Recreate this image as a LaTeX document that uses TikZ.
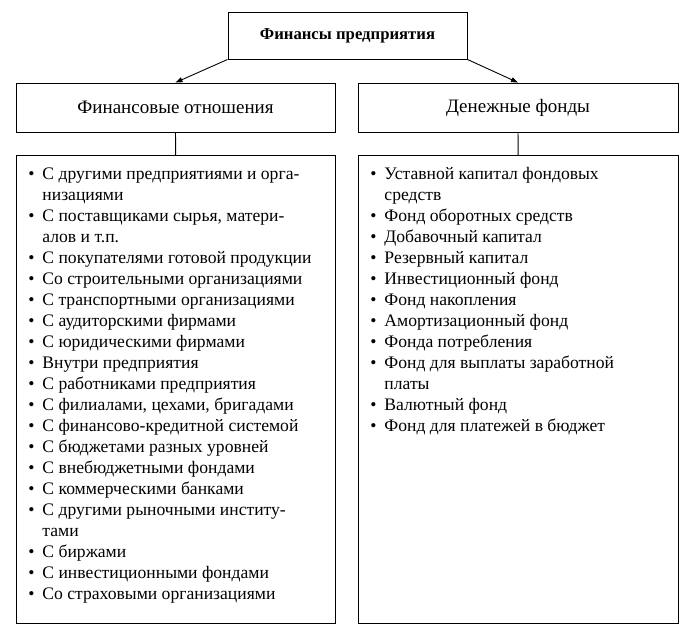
\documentclass[tikz,border=0pt]{standalone}
\usepackage{fontspec}
\setmainfont{Liberation Serif}
\usetikzlibrary{arrows.meta}

% one bullet point with hanging indent
\newcommand{\punkt}[1]{\par\hangindent=14pt\hangafter=1\noindent
  \makebox[14pt][l]{\textbullet}\strut#1\strut}

\begin{document}
\begin{tikzpicture}[x=1pt, y=-1pt,
    box/.style={draw, line width=0.9pt, inner sep=0pt, align=center},
    lst/.style={draw, line width=0.9pt, anchor=north west, inner xsep=12pt, inner ysep=0pt},
    arr/.style={line width=0.9pt, -{Triangle[length=7pt, width=5pt]}}]
  \useasboundingbox (0,0) rectangle (694,635);

  \node[box, minimum width=239pt, minimum height=47pt,
        font=\bfseries\fontsize{16.7}{19}\selectfont] (fin) at (347.5,35.5) {Финансы предприятия};

  \node[box, minimum width=319pt, minimum height=49pt,
        font=\fontsize{19}{22}\selectfont] (otn) at (175.5,107.5) {Финансовые отношения};
  \node[box, minimum width=320pt, minimum height=49pt,
        font=\fontsize{19}{22}\selectfont] (fond) at (518,107.5) {Денежные фонды};

  \node[lst] (otnlist) at (16,155) {\parbox[c][468pt][t]{295pt}{\fontsize{17.6}{21}\selectfont
      \vspace*{9pt}
      \punkt{С другими предприятиями и орга-\\низациями}
      \punkt{С поставщиками сырья, матери-\\алов и т.п.}
      \punkt{С покупателями готовой продукции}
      \punkt{Со строительными организациями}
      \punkt{С транспортными организациями}
      \punkt{С аудиторскими фирмами}
      \punkt{С юридическими фирмами}
      \punkt{Внутри предприятия}
      \punkt{С работниками предприятия}
      \punkt{С филиалами, цехами, бригадами}
      \punkt{С финансово-кредитной системой}
      \punkt{С бюджетами разных уровней}
      \punkt{С внебюджетными фондами}
      \punkt{С коммерческими банками}
      \punkt{С другими рыночными институ-\\тами}
      \punkt{С биржами}
      \punkt{С инвестиционными фондами}
      \punkt{Со страховыми организациями}\par}};

  \node[lst] (fondlist) at (358,155) {\parbox[c][468pt][t]{296pt}{\fontsize{17.6}{21}\selectfont
      \vspace*{9pt}
      \punkt{Уставной капитал фондовых\\средств}
      \punkt{Фонд оборотных средств}
      \punkt{Добавочный капитал}
      \punkt{Резервный капитал}
      \punkt{Инвестиционный фонд}
      \punkt{Фонд накопления}
      \punkt{Амортизационный фонд}
      \punkt{Фонда потребления}
      \punkt{Фонд для выплаты заработной\\платы}
      \punkt{Валютный фонд}
      \punkt{Фонд для платежей в бюджет}\par}};

  \draw[arr] (fin.south west) -- (otn.north);
  \draw[arr] (fin.south east) -- (fond.north);
  \draw[line width=0.9pt] (otn) -- (otnlist);
  \draw[line width=0.9pt] (fond) -- (fondlist);
\end{tikzpicture}
\end{document}
